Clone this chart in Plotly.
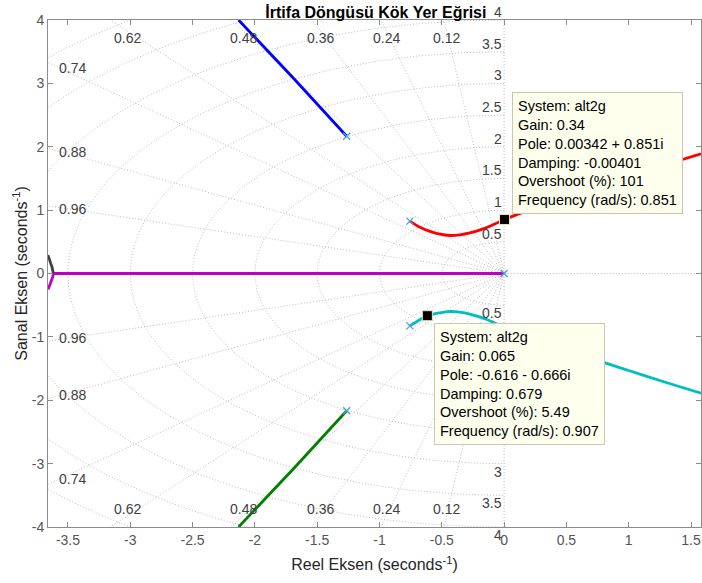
import numpy as np
import plotly.graph_objects as go

# ---- axis limits -------------------------------------------------------
x_lim = [-3.66, 1.58]
y_lim = [-4.0, 4.0]
x_ticks = [-3.5, -3, -2.5, -2, -1.5, -1, -0.5, 0, 0.5, 1, 1.5]
y_ticks = [-4, -3, -2, -1, 0, 1, 2, 3, 4]

# ---- s-plane grid values ----------------------------------------------
damping_values = [0.12, 0.24, 0.36, 0.48, 0.62, 0.74, 0.88, 0.96]
damping_labels = ["0.12", "0.24", "0.36", "0.48", "0.62", "0.74", "0.88", "0.96"]
freq_values = [0.5, 1, 1.5, 2, 2.5, 3, 3.5, 4, 4.5, 5]
freq_labels = ["0.5", "1", "1.5", "2", "2.5", "3", "3.5", "4"]

# ---- open-loop poles ---------------------------------------------------
pole_re = [0.0, -0.756, -0.756, -1.263, -1.263]
pole_im = [0.0, 0.826, -0.826, 2.165, -2.165]

# ---- root-locus branches -----------------------------------------------
blue_re = [-1.263, -1.69, -2.131]
blue_im = [2.165, 3.08, 4.0]

green_re = [-1.263, -1.69, -2.131]
green_im = [-2.165, -3.08, -4.0]

red_re = [-0.756, -0.676, -0.595, -0.515, -0.435, -0.355, -0.275, -0.168,
          -0.088, 0.00342, 0.17, 0.35, 0.7, 1.0, 1.3, 1.58]
red_im = [0.826, 0.73, 0.665, 0.62, 0.60, 0.61, 0.64, 0.705,
          0.77, 0.851, 0.98, 1.10, 1.34, 1.53, 1.72, 1.89]

cyan_re = [-0.756, -0.676, -0.616, -0.515, -0.435, -0.355, -0.275, -0.168,
           -0.088, 0.00342, 0.17, 0.35, 0.7, 1.0, 1.3, 1.58]
cyan_im = [-0.826, -0.73, -0.666, -0.62, -0.60, -0.61, -0.64, -0.705,
           -0.77, -0.851, -0.98, -1.10, -1.34, -1.53, -1.72, -1.89]

magenta_re = [0.0, -3.617, -3.621, -3.628, -3.638, -3.648, -3.66]
magenta_im = [0.0, 0.0, -0.045, -0.095, -0.145, -0.195, -0.25]

black_re = [-3.617, -3.621, -3.628, -3.638, -3.648, -3.66]
black_im = [0.0, 0.05, 0.105, 0.16, 0.215, 0.29]

# ---- data tips ---------------------------------------------------------
tip_re = [0.00342, -0.616]
tip_im = [0.851, -0.666]
tip_gain = ["0.34", "0.065"]
tip_pole = ["0.00342 + 0.851i", "-0.616 - 0.666i"]
tip_damping = ["-0.00401", "0.679"]
tip_overshoot = ["101", "5.49"]
tip_freq = ["0.851", "0.907"]

FONT = "Liberation Sans, Arial, Helvetica, sans-serif"
GRID_COLOR = "#bdbdbd"
LABEL_COLOR = "#404040"
POLE_COLOR = "#4a9fe0"

fig = go.Figure()

# damping rays (plus imaginary and real axes)
gx, gy = [], []
R = 20.0
for z in damping_values:
    th = np.arccos(z)
    for s in (1, -1):
        gx += [0.0, -R * np.cos(th), None]
        gy += [0.0, s * R * np.sin(th), None]
gx += [0.0, 0.0, None, -R, R, None]
gy += [-R, R, None, 0.0, 0.0, None]

# natural-frequency arcs in the left half plane
t = np.linspace(np.pi / 2, 3 * np.pi / 2, 181)
for wn in freq_values:
    gx += list(wn * np.cos(t)) + [None]
    gy += list(wn * np.sin(t)) + [None]

fig.add_trace(go.Scatter(x=gx, y=gy, mode="lines", hoverinfo="skip",
                         line=dict(color=GRID_COLOR, width=1, dash="1px,2px")))

# locus branches
branches = [
    (blue_re, blue_im, "#0000ff", "linear"),
    (green_re, green_im, "#008000", "linear"),
    (red_re, red_im, "#ff0000", "spline"),
    (cyan_re, cyan_im, "#00bfbf", "spline"),
    (magenta_re, magenta_im, "#bf00bf", "linear"),
    (black_re, black_im, "#404040", "linear"),
]
for bx, by, col, shape in branches:
    fig.add_trace(go.Scatter(x=bx, y=by, mode="lines",
                             line=dict(color=col, width=2.8, shape=shape)))

# poles
fig.add_trace(go.Scatter(x=pole_re, y=pole_im, mode="markers",
                         marker=dict(symbol="x-thin-open", size=7, color=POLE_COLOR,
                                     line=dict(color=POLE_COLOR, width=1.3))))

# data tip markers
fig.add_trace(go.Scatter(x=tip_re, y=tip_im, mode="markers",
                         marker=dict(symbol="square", size=10, color="black",
                                     line=dict(color="#e8e8c8", width=1))))

annotations = []

# damping labels: top edge or left edge
for z, lab in zip(damping_values, damping_labels):
    th = np.arccos(z)
    slope = np.tan(th)
    y_left = -x_lim[0] * slope
    for s in (1, -1):
        if y_left > y_lim[1]:
            yy = 3.82
            xx = -yy / slope
            annotations.append(dict(x=xx, y=s * yy, text=lab, showarrow=False,
                                    xanchor="center", yanchor="middle",
                                    yshift=-7 * s,
                                    font=dict(size=14, color=LABEL_COLOR, family=FONT)))
        else:
            xx = x_lim[0] + 0.07
            yy = -xx * slope
            annotations.append(dict(x=xx, y=s * yy, text=lab, showarrow=False,
                                    xanchor="left", yanchor="middle",
                                    yshift=-1.5 * s,
                                    font=dict(size=14, color=LABEL_COLOR, family=FONT)))

# natural-frequency labels along the imaginary axis
for wn, lab in zip(freq_values, freq_labels):
    annotations.append(dict(x=0, y=wn, text=lab, showarrow=False,
                            xanchor="right", yanchor="bottom", yshift=-2,
                            font=dict(size=14, color=LABEL_COLOR, family=FONT)))
    annotations.append(dict(x=0, y=-wn, text=lab, showarrow=False,
                            xanchor="right", yanchor="top", yshift=2,
                            font=dict(size=14, color=LABEL_COLOR, family=FONT)))

# data tip boxes
for i in range(len(tip_re)):
    txt = ("System: alt2g<br>Gain: " + tip_gain[i] + "<br>Pole: " + tip_pole[i]
           + "<br>Damping: " + tip_damping[i] + "<br>Overshoot (%): " + tip_overshoot[i]
           + "<br>Frequency (rad/s): " + tip_freq[i])
    upper = tip_im[i] > 0
    annotations.append(dict(x=tip_re[i], y=tip_im[i], text=txt, showarrow=False,
                            align="left", xanchor="left",
                            yanchor="bottom" if upper else "top",
                            xshift=7, yshift=6 if upper else -7,
                            bgcolor="#ffffee", bordercolor="#c8c8b4",
                            borderwidth=1, borderpad=5,
                            font=dict(size=14.5, color="black", family=FONT)))

axis_common = dict(showgrid=False, zeroline=False, showline=True, linecolor="#8c8c8c",
                   linewidth=1, mirror="ticks", ticks="inside", ticklen=5,
                   tickcolor="#8c8c8c", tickfont=dict(size=14, color="#555555", family=FONT))

fig.update_layout(
    width=702, height=583,
    margin=dict(l=48, r=1, t=20, b=56),
    paper_bgcolor="white", plot_bgcolor="white",
    showlegend=False,
    title=dict(text="<b>İrtifa Döngüsü Kök Yer Eğrisi</b>", x=0.5355, xanchor="center",
               yref="container", y=1 - 12.5 / 583, yanchor="middle",
               font=dict(size=16, color="black", family=FONT)),
    xaxis=dict(range=x_lim, tickvals=x_ticks, ticktext=[f"{v:g}" for v in x_ticks],
               title=dict(text="Reel Eksen (seconds<sup>-1</sup>)", standoff=12,
                          font=dict(size=16, color="#262626", family=FONT)),
               **axis_common),
    yaxis=dict(range=y_lim, tickvals=y_ticks, ticktext=[f"{v:g}" for v in y_ticks],
               title=dict(text="Sanal Eksen (seconds<sup>-1</sup>)", standoff=0,
                          font=dict(size=16, color="#262626", family=FONT)),
               **axis_common),
    annotations=annotations,
)

fig.write_html("out.html")
